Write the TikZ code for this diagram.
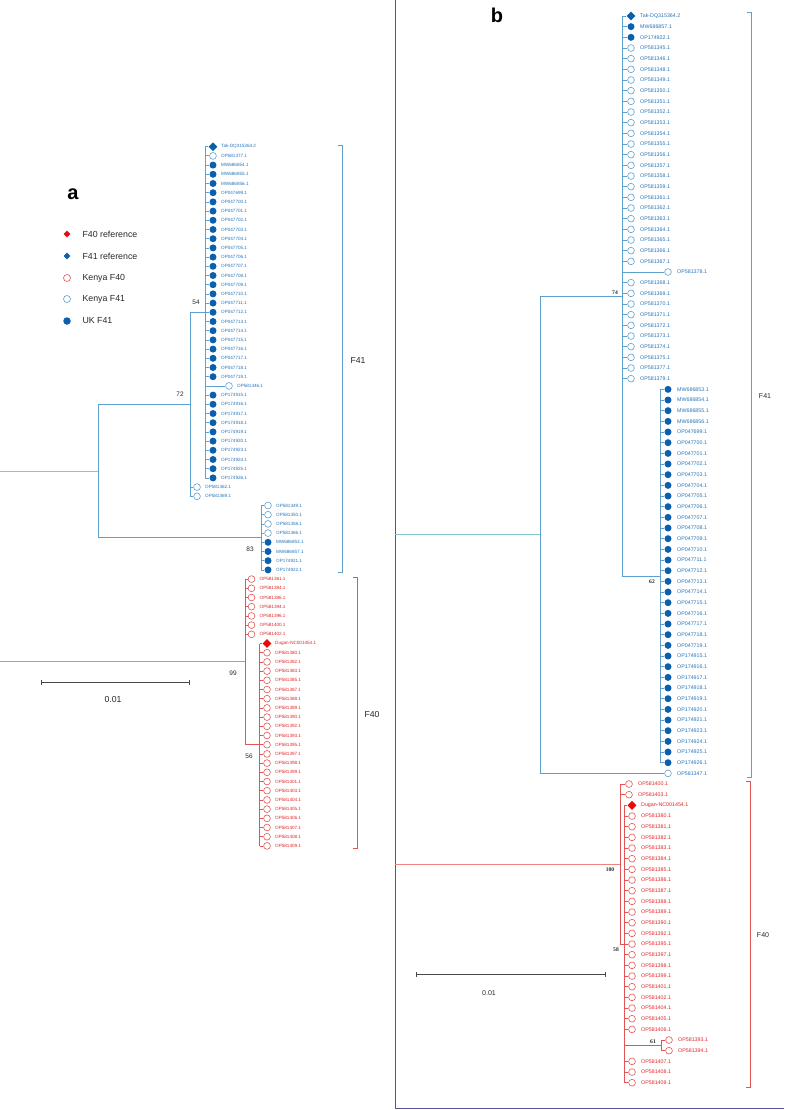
\documentclass[tikz,border=0pt]{standalone}
\usepackage{fontspec}
\setmainfont{Liberation Sans}
\newfontfamily\chiffres{Liberation Serif}
\usepackage{xcolor}
\definecolor{bleuligne}{RGB}{95,160,205}
\definecolor{bleutexte}{RGB}{35,115,185}
\definecolor{bleuplein}{RGB}{10,95,175}
\definecolor{rougeligne}{RGB}{225,85,85}
\definecolor{rougetexte}{RGB}{225,35,35}
\definecolor{rougeplein}{RGB}{235,10,10}
\definecolor{racbleu}{RGB}{130,200,210}
\definecolor{racrouge}{RGB}{240,130,130}
\definecolor{cadre}{RGB}{85,85,145}
\definecolor{encre}{RGB}{40,40,40}
\usetikzlibrary{arrows.meta,shapes.geometric}

% une feuille : symbole + nom de la sequence
\newcommand{\feuille}[6]{%
  \node[#4] (#1) at (#2,#3) {};
  \node[#5] (l#1) at (#1.center) {#6};}

\begin{document}
\begin{tikzpicture}[x=1pt, y=-1pt,
    branchebleu/.style={line width=0.8pt, color=bleuligne},
    brancherouge/.style={line width=0.8pt, color=rougeligne},
    racinebleu/.style={line width=0.8pt, color=racbleu},
    racinerouge/.style={line width=0.8pt, color=racrouge},
    pleinbleu/.style={circle, fill=bleuplein, inner sep=0pt, minimum size=7pt},
    videbleu/.style={circle, draw=bleuligne, line width=0.6pt, inner sep=0pt, minimum size=6.8pt},
    viderouge/.style={circle, draw=rougeligne, line width=0.6pt, inner sep=0pt, minimum size=6.8pt},
    losbleu/.style={diamond, aspect=1, fill=bleuplein, inner sep=0pt, minimum size=9pt},
    losrouge/.style={diamond, aspect=1, fill=rougeplein, inner sep=0pt, minimum size=9pt},
    etiqab/.style={anchor=west, xshift=8pt, inner sep=0pt, text=bleutexte, font=\fontsize{4.6}{5}\selectfont},
    etiqar/.style={etiqab, text=rougetexte},
    etiqbb/.style={anchor=west, xshift=9pt, inner sep=0pt, text=bleutexte, font=\fontsize{5.3}{6}\selectfont},
    etiqbr/.style={etiqbb, text=rougetexte},
    boota/.style={text=encre, font=\fontsize{6.5}{7}\selectfont},
    bootb/.style={text=encre, font=\chiffres\bfseries\fontsize{5.6}{6}\selectfont},
    accolbleu/.style={line width=0.8pt, color=bleuligne},
    accolrouge/.style={line width=0.8pt, color=rougeligne},
    groupea/.style={text=encre, font=\fontsize{8.7}{10}\selectfont},
    groupeb/.style={text=encre, font=\fontsize{7}{8}\selectfont},
    echelle/.style={line width=0.8pt, color=encre!85, {Bar[width=5pt]}-{Bar[width=5pt]}},
    legende/.style={anchor=west, text=encre, font=\fontsize{8.8}{10}\selectfont}]
  \useasboundingbox (0,0) rectangle (784,1110);

  % ---------------- panneau a ----------------
  \node[font=\bfseries\fontsize{20}{20}\selectfont, text=black] (titrea) at (73,194) {a};
  \node[losrouge, minimum size=7pt] (lg1) at (67,234) {};
  \node[legende] (tlg1) at (79,234) {F40 reference};
  \node[losbleu, minimum size=7pt] (lg2) at (67,256) {};
  \node[legende] (tlg2) at (79,256) {F41 reference};
  \node[viderouge, minimum size=7pt] (lg3) at (67,278) {};
  \node[legende] (tlg3) at (79,278) {Kenya F40};
  \node[videbleu, minimum size=7pt] (lg4) at (67,299) {};
  \node[legende] (tlg4) at (79,299) {Kenya F41};
  \node[pleinbleu, minimum size=7.5pt] (lg5) at (67,321) {};
  \node[legende] (tlg5) at (79,321) {UK F41};

  % clade 54
  \foreach \i/\t/\s in {0/Tak-DQ315364.2/losbleu, 1/OP581377.1/videbleu,
      2/MW686854.1/pleinbleu, 3/MW686855.1/pleinbleu, 4/MW686856.1/pleinbleu,
      5/OP047699.1/pleinbleu, 6/OP047700.1/pleinbleu, 7/OP047701.1/pleinbleu,
      8/OP047702.1/pleinbleu, 9/OP047703.1/pleinbleu, 10/OP047704.1/pleinbleu,
      11/OP047705.1/pleinbleu, 12/OP047706.1/pleinbleu, 13/OP047707.1/pleinbleu,
      14/OP047708.1/pleinbleu, 15/OP047709.1/pleinbleu, 16/OP047710.1/pleinbleu,
      17/OP047711.1/pleinbleu, 18/OP047712.1/pleinbleu, 19/OP047713.1/pleinbleu,
      20/OP047714.1/pleinbleu, 21/OP047715.1/pleinbleu, 22/OP047716.1/pleinbleu,
      23/OP047717.1/pleinbleu, 24/OP047718.1/pleinbleu, 25/OP047719.1/pleinbleu,
      27/OP174915.1/pleinbleu, 28/OP174916.1/pleinbleu, 29/OP174917.1/pleinbleu,
      30/OP174918.1/pleinbleu, 31/OP174919.1/pleinbleu, 32/OP174920.1/pleinbleu,
      33/OP174923.1/pleinbleu, 34/OP174924.1/pleinbleu, 35/OP174925.1/pleinbleu,
      36/OP174926.1/pleinbleu}{
    \pgfmathsetmacro{\yy}{146.7+9.2*\i}
    \feuille{a\i}{213}{\yy}{\s}{etiqab}{\t}
  }
  \feuille{a26}{229}{385.9}{videbleu}{etiqab}{OP581346.1}
  \coordinate (n54) at (205,312.3);
  \draw[branchebleu] (n54 |- a0) -- (n54 |- a36);
  \foreach \i in {0,...,36} \draw[branchebleu] (n54 |- a\i) -- (a\i.west);
  \node[boota] (b54) at (196,302) {54};

  % clade 72
  \feuille{a37}{197}{487.1}{videbleu}{etiqab}{OP581362.1}
  \feuille{a38}{197}{496.3}{videbleu}{etiqab}{OP581369.1}
  \coordinate (n72) at (190,404.3);
  \draw[branchebleu] (n72 |- n54) -- (n72 |- a38);
  \draw[branchebleu] (n72 |- n54) -- (n54);
  \draw[branchebleu] (n72 |- a37) -- (a37.west);
  \draw[branchebleu] (n72 |- a38) -- (a38.west);
  \node[boota] (b72) at (180,394) {72};

  % clade 83
  \foreach \i/\t/\s in {39/OP581349.1/videbleu, 40/OP581350.1/videbleu,
      41/OP581358.1/videbleu, 42/OP581366.1/videbleu, 43/MW686853.1/pleinbleu,
      44/MW686857.1/pleinbleu, 45/OP174921.1/pleinbleu, 46/OP174922.1/pleinbleu}{
    \pgfmathsetmacro{\yy}{146.7+9.2*\i}
    \feuille{a\i}{268}{\yy}{\s}{etiqab}{\t}
  }
  \coordinate (n83) at (261,537.7);
  \draw[branchebleu] (n83 |- a39) -- (n83 |- a46);
  \foreach \i in {39,...,46} \draw[branchebleu] (n83 |- a\i) -- (a\i.west);
  \node[boota] (b83) at (250,549) {83};

  % racine F41
  \coordinate (raca) at (98,471);
  \coordinate (orga) at (0,471);
  \draw[racinebleu] (orga) -- (raca);
  \draw[branchebleu] (raca |- n72) -- (raca |- n83);
  \draw[branchebleu] (raca |- n72) -- (n72);
  \draw[branchebleu] (raca |- n83) -- (n83);

  % clade 99 (F40)
  \foreach \i/\t in {47/OP581361.1, 48/OP581384.1, 49/OP581386.1, 50/OP581394.1,
      51/OP581396.1, 52/OP581400.1, 53/OP581402.1}{
    \pgfmathsetmacro{\yy}{146.7+9.2*\i}
    \feuille{a\i}{251.5}{\yy}{viderouge}{etiqar}{\t}
  }
  \foreach \i/\t/\s in {54/Dugan-NC001454.1/losrouge, 55/OP581380.1/viderouge,
      56/OP581382.1/viderouge, 57/OP581383.1/viderouge, 58/OP581385.1/viderouge,
      59/OP581387.1/viderouge, 60/OP581388.1/viderouge, 61/OP581389.1/viderouge,
      62/OP581390.1/viderouge, 63/OP581392.1/viderouge, 64/OP581393.1/viderouge,
      65/OP581395.1/viderouge, 66/OP581397.1/viderouge, 67/OP581398.1/viderouge,
      68/OP581399.1/viderouge, 69/OP581401.1/viderouge, 70/OP581403.1/viderouge,
      71/OP581404.1/viderouge, 72/OP581405.1/viderouge, 73/OP581406.1/viderouge,
      74/OP581407.1/viderouge, 75/OP581408.1/viderouge, 76/OP581409.1/viderouge}{
    \pgfmathsetmacro{\yy}{146.7+9.2*\i}
    \feuille{a\i}{267}{\yy}{\s}{etiqar}{\t}
  }
  \coordinate (n56) at (259.5,744.7);
  \coordinate (n99) at (245,661.8);
  \draw[brancherouge] (n56 |- a54) -- (n56 |- a76);
  \foreach \i in {54,...,76} \draw[brancherouge] (n56 |- a\i) -- (a\i.west);
  \draw[brancherouge] (n99 |- a47) -- (n99 |- n56) -- (n56);
  \foreach \i in {47,...,53} \draw[brancherouge] (n99 |- a\i) -- (a\i.west);
  \coordinate (orgar) at (0,661.8);
  \draw[racinerouge] (orgar) -- (n99);
  \node[boota] (b99) at (233,673) {99};
  \node[boota] (b56) at (249,756) {56};

  % groupes et echelle
  \draw[accolbleu] (338,145) -| (342,572) -- (338,572);
  \node[groupea] (fa41) at (358,361) {F41};
  \draw[accolrouge] (353,577) -| (357,848) -- (353,848);
  \node[groupea] (fa40) at (372,714) {F40};
  \coordinate (eca1) at (41,682);
  \coordinate (eca2) at (190,682);
  \draw[echelle] (eca1) -- (eca2);
  \node[groupea] (tea) at (113,699) {0.01};

  % ---------------- panneau b ----------------
  \draw[line width=0.7pt, color=cadre] (395,0) -- (395,1108) -- (784,1108);
  \node[font=\bfseries\fontsize{20}{20}\selectfont, text=black] (titreb) at (497,15) {b};

  % clade 74
  \foreach \i/\t/\s in {0/Tak-DQ315364.2/losbleu, 1/MW686857.1/pleinbleu,
      2/OP174922.1/pleinbleu, 3/OP581345.1/videbleu, 4/OP581346.1/videbleu,
      5/OP581348.1/videbleu, 6/OP581349.1/videbleu, 7/OP581350.1/videbleu,
      8/OP581351.1/videbleu, 9/OP581352.1/videbleu, 10/OP581353.1/videbleu,
      11/OP581354.1/videbleu, 12/OP581355.1/videbleu, 13/OP581356.1/videbleu,
      14/OP581357.1/videbleu, 15/OP581358.1/videbleu, 16/OP581359.1/videbleu,
      17/OP581361.1/videbleu, 18/OP581362.1/videbleu, 19/OP581363.1/videbleu,
      20/OP581364.1/videbleu, 21/OP581365.1/videbleu, 22/OP581366.1/videbleu,
      23/OP581367.1/videbleu, 25/OP581368.1/videbleu, 26/OP581369.1/videbleu,
      27/OP581370.1/videbleu, 28/OP581371.1/videbleu, 29/OP581372.1/videbleu,
      30/OP581373.1/videbleu, 31/OP581374.1/videbleu, 32/OP581375.1/videbleu,
      33/OP581377.1/videbleu, 34/OP581379.1/videbleu}{
    \pgfmathsetmacro{\yy}{16+10.667*\i}
    \feuille{b\i}{631}{\yy}{\s}{etiqbb}{\t}
  }
  \feuille{b24}{668}{272}{videbleu}{etiqbb}{OP581378.1}

  % clade 62
  \foreach \i/\t in {35/MW686853.1, 36/MW686854.1, 37/MW686855.1, 38/MW686856.1,
      39/OP047699.1, 40/OP047700.1, 41/OP047701.1, 42/OP047702.1, 43/OP047703.1,
      44/OP047704.1, 45/OP047705.1, 46/OP047706.1, 47/OP047707.1, 48/OP047708.1,
      49/OP047709.1, 50/OP047710.1, 51/OP047711.1, 52/OP047712.1, 53/OP047713.1,
      54/OP047714.1, 55/OP047715.1, 56/OP047716.1, 57/OP047717.1, 58/OP047718.1,
      59/OP047719.1, 60/OP174915.1, 61/OP174916.1, 62/OP174917.1, 63/OP174918.1,
      64/OP174919.1, 65/OP174920.1, 66/OP174921.1, 67/OP174923.1, 68/OP174924.1,
      69/OP174925.1, 70/OP174926.1}{
    \pgfmathsetmacro{\yy}{16+10.667*\i}
    \feuille{b\i}{668}{\yy}{pleinbleu}{etiqbb}{\t}
  }
  \feuille{b71}{668}{773.4}{videbleu}{etiqbb}{OP581347.1}

  \coordinate (n74) at (622,296);
  \coordinate (n62) at (660,576);
  \coordinate (racb) at (540,534.7);
  \coordinate (orgb) at (395,534.7);
  \draw[branchebleu] (n62 |- b35) -- (n62 |- b70);
  \foreach \i in {35,...,70} \draw[branchebleu] (n62 |- b\i) -- (b\i.west);
  \draw[branchebleu] (n74 |- b0) -- (n74 |- n62) -- (n62);
  \foreach \i in {0,...,34} \draw[branchebleu] (n74 |- b\i) -- (b\i.west);
  \draw[branchebleu] (racb |- n74) -- (racb |- b71);
  \draw[branchebleu] (racb |- n74) -- (n74);
  \draw[branchebleu] (racb |- b71) -- (b71.west);
  \draw[racinebleu] (orgb) -- (racb);
  \node[bootb] (b74) at (615,293) {74};
  \node[bootb] (b62) at (652,582) {62};

  % clade 100 (F40)
  \feuille{b72}{629}{784}{viderouge}{etiqbr}{OP581400.1}
  \feuille{b73}{629}{794.7}{viderouge}{etiqbr}{OP581403.1}
  \foreach \i/\t/\s in {74/Dugan-NC001454.1/losrouge, 75/OP581380.1/viderouge,
      76/OP581381.1/viderouge, 77/OP581382.1/viderouge, 78/OP581383.1/viderouge,
      79/OP581384.1/viderouge, 80/OP581385.1/viderouge, 81/OP581386.1/viderouge,
      82/OP581387.1/viderouge, 83/OP581388.1/viderouge, 84/OP581389.1/viderouge,
      85/OP581390.1/viderouge, 86/OP581392.1/viderouge, 87/OP581395.1/viderouge,
      88/OP581397.1/viderouge, 89/OP581398.1/viderouge, 90/OP581399.1/viderouge,
      91/OP581401.1/viderouge, 92/OP581402.1/viderouge, 93/OP581404.1/viderouge,
      94/OP581405.1/viderouge, 95/OP581406.1/viderouge, 98/OP581407.1/viderouge,
      99/OP581408.1/viderouge, 100/OP581409.1/viderouge}{
    \pgfmathsetmacro{\yy}{16+10.667*\i}
    \feuille{b\i}{632}{\yy}{\s}{etiqbr}{\t}
  }
  \feuille{b96}{669}{1040}{viderouge}{etiqbr}{OP581393.1}
  \feuille{b97}{669}{1050.7}{viderouge}{etiqbr}{OP581394.1}

  \coordinate (n61) at (661,1045.4);
  \coordinate (n58) at (624.5,944);
  \coordinate (n100) at (620,864);
  \coordinate (orgbr) at (395,864);
  \draw[brancherouge] (n61 |- b96) -- (n61 |- b97);
  \draw[brancherouge] (n61 |- b96) -- (b96.west);
  \draw[brancherouge] (n61 |- b97) -- (b97.west);
  \draw[brancherouge] (n58 |- b74) -- (n58 |- b100);
  \foreach \i in {74,...,95,98,99,100} \draw[brancherouge] (n58 |- b\i) -- (b\i.west);
  \draw[brancherouge] (n58 |- n61) -- (n61);
  \draw[brancherouge] (n100 |- b72) -- (n100 |- n58) -- (n58);
  \draw[brancherouge] (n100 |- b72) -- (b72.west);
  \draw[brancherouge] (n100 |- b73) -- (b73.west);
  \draw[racinerouge] (orgbr) -- (n100);
  \node[bootb] (b100) at (610,870) {100};
  \node[bootb] (b58) at (616,950) {58};
  \node[bootb] (b61) at (653,1042) {61};

  % groupes et echelle
  \draw[accolbleu] (747,12) -| (751,777) -- (747,777);
  \node[groupeb] (fb41) at (765,396) {F41};
  \draw[accolrouge] (746,781) -| (750,1087) -- (746,1087);
  \node[groupeb] (fb40) at (763,935) {F40};
  \coordinate (ecb1) at (416,974);
  \coordinate (ecb2) at (606,974);
  \draw[echelle] (ecb1) -- (ecb2);
  \node[groupeb] (teb) at (489,993) {0.01};
\end{tikzpicture}
\end{document}
